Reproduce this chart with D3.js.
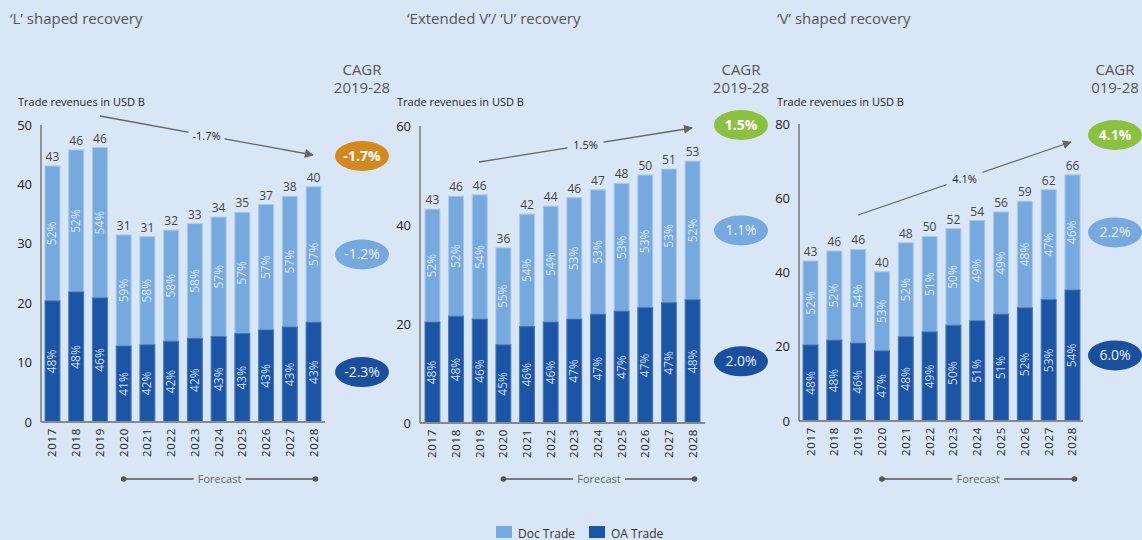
<!DOCTYPE html>
<html>
<head>
<meta charset="utf-8">
<script src="https://cdn.jsdelivr.net/npm/d3@7"></script>
<style>
  body { margin: 0; background: #d9e6f6; }
  svg { display: block; font-family: "Open Sans", sans-serif; }
</style>
</head>
<body>
<svg id="chart" width="1142" height="540"></svg>
<script>
// values
const years = ['2017', '2018', '2019', '2020', '2021', '2022', '2023', '2024', '2025', '2026', '2027', '2028'];
const forecastRange = ['2020', '2028'];
const titles = ['\u2018L\u2019 shaped recovery', '\u2018Extended V\u2019/ \u2018U\u2019 recovery', '\u2018V\u2019 shaped recovery'];
const yMax = [50, 60, 80];
const yTicks = [[0, 10, 20, 30, 40, 50], [0, 20, 40, 60], [0, 20, 40, 60, 80]];

const totalLabels = [
  [43, 46, 46, 31, 31, 32, 33, 34, 35, 37, 38, 40],
  [43, 46, 46, 36, 42, 44, 46, 47, 48, 50, 51, 53],
  [43, 46, 46, 40, 48, 50, 52, 54, 56, 59, 62, 66]
];
const oaValues = [
  [20.4, 21.9, 20.9, 12.8, 13.0, 13.6, 14.1, 14.4, 14.9, 15.5, 16.0, 16.8],
  [20.4, 21.6, 21.0, 15.8, 19.5, 20.4, 21.0, 22.0, 22.6, 23.3, 24.3, 24.9],
  [20.5, 21.8, 21.0, 18.9, 22.7, 24.0, 25.8, 27.0, 28.8, 30.5, 32.7, 35.3]
];
const docValues = [
  [22.7, 23.9, 25.3, 18.7, 18.2, 18.7, 19.3, 20.1, 20.4, 21.1, 22.0, 22.8],
  [22.8, 24.2, 25.1, 19.6, 22.7, 23.4, 24.5, 25.1, 25.8, 26.8, 27.0, 28.0],
  [22.6, 24.0, 25.2, 21.3, 25.3, 25.7, 26.0, 27.0, 27.5, 28.7, 29.6, 31.0]
];
const oaShares = [
  [48, 48, 46, 41, 42, 42, 42, 43, 43, 43, 43, 43],
  [48, 48, 46, 45, 46, 46, 47, 47, 47, 47, 47, 48],
  [48, 48, 46, 47, 48, 49, 50, 51, 51, 52, 53, 54]
];
const docShares = [
  [52, 52, 54, 59, 58, 58, 58, 57, 57, 57, 57, 57],
  [52, 52, 54, 55, 54, 54, 53, 53, 53, 53, 53, 52],
  [52, 52, 54, 53, 52, 51, 50, 49, 49, 48, 47, 46]
];
const cagrTotal = ['-1.7%', '1.5%', '4.1%'];
const cagrDoc = ['-1.2%', '1.1%', '2.2%'];
const cagrOA = ['-2.3%', '2.0%', '6.0%'];
const cagrPeriods = ['2019-28', '2019-28', '019-28'];
const seriesNames = ['Doc Trade', 'OA Trade'];

const bg = '#d9e6f6';
const docColor = '#76a9de';
const oaColor = '#1b55a5';

// where each panel sits on the page
const panels = [
  { axisX: 41, x0: 45, x1: 321, endX: 325, top: 125, base: 422, titleX: 10, unitX: 18, cagrX: 362,
    arrow: [[100, 116], [313, 155]], topBadgeY: 156 },
  { axisX: 420, x0: 425, x1: 700, endX: 705, top: 126, base: 423, titleX: 407, unitX: 397, cagrX: 741,
    arrow: [[479, 162], [692, 128]], topBadgeY: 125 },
  { axisX: 799, x0: 803, x1: 1080, endX: 1083, top: 124, base: 421, titleX: 777, unitX: 777, cagrX: 1115,
    arrow: [[858, 215], [1071, 142]], topBadgeY: 135 }
];

const svg = d3.select('#chart');

svg.append('rect').attr('width', 1142).attr('height', 540).attr('fill', bg);

svg.append('defs').append('marker')
  .attr('id', 'arrowhead')
  .attr('viewBox', '0 0 10 10')
  .attr('refX', 9).attr('refY', 5)
  .attr('markerWidth', 9).attr('markerHeight', 9)
  .attr('markerUnits', 'userSpaceOnUse')
  .attr('orient', 'auto')
  .append('path')
  .attr('d', 'M0,0 L10,5 L0,10 Z')
  .attr('fill', '#666');

panels.forEach((p, i) => {
  const g = svg.append('g');

  const x = d3.scaleBand().domain(years).range([p.x0, p.x1]).paddingInner(0.37).paddingOuter(0);
  const y = d3.scaleLinear().domain([0, yMax[i]]).range([p.base, p.top]);

  g.append('text')
    .attr('x', p.titleX).attr('y', 24)
    .attr('font-size', 15).attr('fill', '#555')
    .text(titles[i]);

  g.append('text')
    .attr('x', p.unitX).attr('y', 106)
    .attr('font-size', 11).attr('fill', '#222')
    .text('Trade revenues in USD B');

  g.append('text')
    .attr('x', p.cagrX).attr('y', 75)
    .attr('text-anchor', 'middle').attr('font-size', 15).attr('fill', '#555')
    .text('CAGR');
  g.append('text')
    .attr('x', p.cagrX).attr('y', 93)
    .attr('text-anchor', 'middle').attr('font-size', 15).attr('fill', '#555')
    .text(cagrPeriods[i]);

  // y axis
  const axis = g.append('g')
    .attr('transform', `translate(${p.axisX},0)`)
    .call(d3.axisLeft(y).tickValues(yTicks[i]).tickSize(0).tickPadding(9));
  axis.select('.domain').remove();
  axis.selectAll('text').attr('font-size', 13).attr('fill', '#222').attr('font-family', '"Open Sans", sans-serif');

  g.append('line')
    .attr('x1', p.axisX).attr('x2', p.axisX)
    .attr('y1', y(yMax[i])).attr('y2', p.base)
    .attr('stroke', '#777').attr('stroke-width', 1.5);

  const rows = years.map((yr, j) => ({
    year: yr, oa: oaValues[i][j], doc: docValues[i][j],
    total: totalLabels[i][j], oaShare: oaShares[i][j], docShare: docShares[i][j]
  }));

  const bars = g.append('g').selectAll('g').data(rows).join('g');

  bars.append('rect')
    .attr('x', d => x(d.year)).attr('width', x.bandwidth())
    .attr('y', d => y(d.oa + d.doc)).attr('height', d => y(d.oa) - y(d.oa + d.doc))
    .attr('fill', docColor).attr('stroke', '#a9c9ec').attr('stroke-width', 1);

  bars.append('rect')
    .attr('x', d => x(d.year)).attr('width', x.bandwidth())
    .attr('y', d => y(d.oa)).attr('height', d => p.base - y(d.oa))
    .attr('fill', oaColor).attr('stroke', '#4a78b8').attr('stroke-width', 1);

  bars.append('text')
    .attr('x', d => x(d.year) + x.bandwidth() / 2)
    .attr('y', d => y(d.oa + d.doc) - 5)
    .attr('text-anchor', 'middle').attr('font-size', 12).attr('fill', '#444')
    .text(d => d.total);

  bars.append('text')
    .attr('transform', d => `translate(${x(d.year) + x.bandwidth() / 2 + 4},${(y(d.oa + d.doc) + y(d.oa)) / 2}) rotate(-90)`)
    .attr('text-anchor', 'middle').attr('font-size', 12).attr('fill', '#dbe8f7')
    .text(d => d.docShare + '%');

  bars.append('text')
    .attr('transform', d => `translate(${x(d.year) + x.bandwidth() / 2 + 4},${(y(d.oa) + p.base) / 2}) rotate(-90)`)
    .attr('text-anchor', 'middle').attr('font-size', 12).attr('fill', '#cddcf0')
    .text(d => d.oaShare + '%');

  bars.append('text')
    .attr('transform', d => `translate(${x(d.year) + x.bandwidth() / 2 + 4},${p.base + 6}) rotate(-90)`)
    .attr('text-anchor', 'end').attr('font-size', 11.5).attr('fill', '#222').attr('letter-spacing', 0.7)
    .text(d => d.year);

  g.append('line')
    .attr('x1', p.axisX).attr('x2', p.endX)
    .attr('y1', p.base).attr('y2', p.base)
    .attr('stroke', '#888').attr('stroke-width', 2);

  // forecast bracket
  const fx0 = x(forecastRange[0]) + x.bandwidth() / 2;
  const fx1 = x(forecastRange[1]) + x.bandwidth() / 2 + 2;
  const fy = 479;
  g.append('line')
    .attr('x1', fx0).attr('x2', fx1).attr('y1', fy).attr('y2', fy)
    .attr('stroke', '#555').attr('stroke-width', 1.3);
  g.selectAll('circle.fc').data([fx0, fx1]).join('circle')
    .attr('class', 'fc').attr('cx', d => d).attr('cy', fy).attr('r', 2.8).attr('fill', '#555');
  g.append('rect')
    .attr('x', (fx0 + fx1) / 2 - 26).attr('y', fy - 8).attr('width', 52).attr('height', 16)
    .attr('fill', bg);
  g.append('text')
    .attr('x', (fx0 + fx1) / 2).attr('y', fy + 4)
    .attr('text-anchor', 'middle').attr('font-size', 11).attr('fill', '#666')
    .text('Forecast');

  // CAGR arrow
  const [a0, a1] = p.arrow;
  g.append('line')
    .attr('x1', a0[0]).attr('y1', a0[1]).attr('x2', a1[0]).attr('y2', a1[1])
    .attr('stroke', '#666').attr('stroke-width', 1.3)
    .attr('marker-end', 'url(#arrowhead)');
  const mx = (a0[0] + a1[0]) / 2, my = (a0[1] + a1[1]) / 2;
  g.append('rect')
    .attr('x', mx - 18).attr('y', my - 8).attr('width', 36).attr('height', 15)
    .attr('fill', bg);
  g.append('text')
    .attr('x', mx).attr('y', my + 4)
    .attr('text-anchor', 'middle').attr('font-size', 11).attr('fill', '#222')
    .text(cagrTotal[i]);

  // CAGR badges
  const last = rows[rows.length - 1];
  const badges = [
    { y: p.topBadgeY, label: cagrTotal[i], fill: cagrTotal[i].startsWith('-') ? '#d4891f' : '#8cc03f', bold: true },
    { y: (y(last.oa + last.doc) + y(last.oa)) / 2, label: cagrDoc[i], fill: docColor, bold: false },
    { y: (y(last.oa) + p.base) / 2, label: cagrOA[i], fill: '#1a4f9e', bold: false }
  ];
  const bg2 = g.append('g').selectAll('g').data(badges).join('g')
    .attr('transform', d => `translate(${p.cagrX},${d.y})`);
  bg2.append('ellipse').attr('rx', 27).attr('ry', 15).attr('fill', d => d.fill);
  bg2.append('text')
    .attr('y', 5)
    .attr('text-anchor', 'middle').attr('font-size', 14)
    .attr('font-weight', d => d.bold ? 700 : 400)
    .attr('fill', d => d.bold ? '#fff' : '#e8f0fa')
    .text(d => d.label);
});

// legend
const legend = svg.append('g').attr('transform', 'translate(496,526)');
const items = legend.selectAll('g').data(seriesNames).join('g')
  .attr('transform', (d, i) => `translate(${i * 93},0)`);
items.append('rect').attr('width', 16).attr('height', 12)
  .attr('fill', (d, i) => i === 0 ? docColor : oaColor);
items.append('text').attr('x', 22).attr('y', 11.5)
  .attr('font-size', 12).attr('fill', '#333')
  .text(d => d);
</script>
</body>
</html>
